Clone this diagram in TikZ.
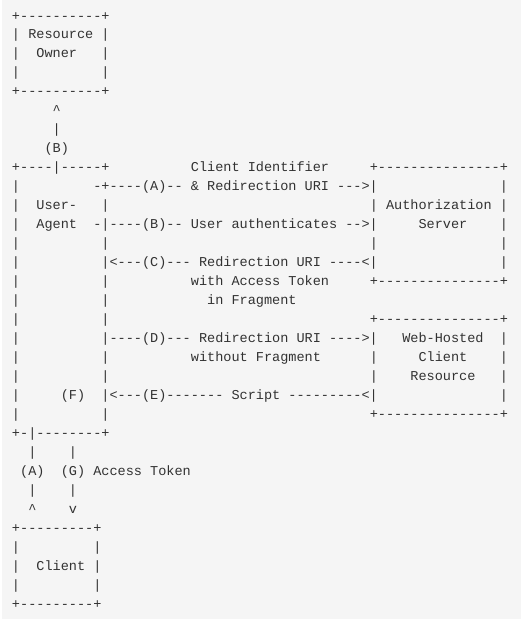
\documentclass[tikz,border=0pt]{standalone}
\usepackage{fontspec}
\setmonofont{Liberation Mono}
\definecolor{bgcol}{RGB}{245,245,245}
\definecolor{txtcol}{RGB}{50,50,50}
\tikzset{
  asc/.style={anchor=base west, inner sep=0pt, outer sep=0pt, text=txtcol,
    font=\ttfamily\fontsize{13.55pt}{19pt}\selectfont}
}
\newcommand{\ca}{\textasciicircum}
\begin{document}
\begin{tikzpicture}[x=1pt,y=-1pt]
\useasboundingbox (0,0) rectangle (523,621);
\fill[bgcol] (2,0) rectangle (521,619);
\def\lx{12}
\def\ly#1{20+(#1-1)*18.97}
\node[asc] (l1) at (\lx,{\ly{1}}) {+----------+};
\node[asc] (l2) at (\lx,{\ly{2}}) {|~Resource~|};
\node[asc] (l3) at (\lx,{\ly{3}}) {|~~Owner~~~|};
\node[asc] (l4) at (\lx,{\ly{4}}) {|~~~~~~~~~~|};
\node[asc] (l5) at (\lx,{\ly{5}}) {+----------+};
\node[asc] (l6) at (\lx,{\ly{6}}) {~~~~~\ca};
\node[asc] (l7) at (\lx,{\ly{7}}) {~~~~~|};
\node[asc] (l8) at (\lx,{\ly{8}}) {~~~~(B)};
\node[asc] (l9) at (\lx,{\ly{9}}) {+----|-----+~~~~~~~~~~Client~Identifier~~~~~+---------------+};
\node[asc] (l10) at (\lx,{\ly{10}}) {|~~~~~~~~~-+----(A)--~\&~Redirection~URI~--->|~~~~~~~~~~~~~~~|};
\node[asc] (l11) at (\lx,{\ly{11}}) {|~~User-~~~|~~~~~~~~~~~~~~~~~~~~~~~~~~~~~~~~|~Authorization~|};
\node[asc] (l12) at (\lx,{\ly{12}}) {|~~Agent~~-|----(B)--~User~authenticates~-->|~~~~~Server~~~~|};
\node[asc] (l13) at (\lx,{\ly{13}}) {|~~~~~~~~~~|~~~~~~~~~~~~~~~~~~~~~~~~~~~~~~~~|~~~~~~~~~~~~~~~|};
\node[asc] (l14) at (\lx,{\ly{14}}) {|~~~~~~~~~~|<---(C)---~Redirection~URI~----<|~~~~~~~~~~~~~~~|};
\node[asc] (l15) at (\lx,{\ly{15}}) {|~~~~~~~~~~|~~~~~~~~~~with~Access~Token~~~~~+---------------+};
\node[asc] (l16) at (\lx,{\ly{16}}) {|~~~~~~~~~~|~~~~~~~~~~~~in~Fragment};
\node[asc] (l17) at (\lx,{\ly{17}}) {|~~~~~~~~~~|~~~~~~~~~~~~~~~~~~~~~~~~~~~~~~~~+---------------+};
\node[asc] (l18) at (\lx,{\ly{18}}) {|~~~~~~~~~~|----(D)---~Redirection~URI~---->|~~~Web-Hosted~~|};
\node[asc] (l19) at (\lx,{\ly{19}}) {|~~~~~~~~~~|~~~~~~~~~~without~Fragment~~~~~~|~~~~~Client~~~~|};
\node[asc] (l20) at (\lx,{\ly{20}}) {|~~~~~~~~~~|~~~~~~~~~~~~~~~~~~~~~~~~~~~~~~~~|~~~~Resource~~~|};
\node[asc] (l21) at (\lx,{\ly{21}}) {|~~~~~(F)~~|<---(E)-------~Script~---------<|~~~~~~~~~~~~~~~|};
\node[asc] (l22) at (\lx,{\ly{22}}) {|~~~~~~~~~~|~~~~~~~~~~~~~~~~~~~~~~~~~~~~~~~~+---------------+};
\node[asc] (l23) at (\lx,{\ly{23}}) {+-|--------+};
\node[asc] (l24) at (\lx,{\ly{24}}) {~~|~~~~|};
\node[asc] (l25) at (\lx,{\ly{25}}) {~(A)~~(G)~Access~Token};
\node[asc] (l26) at (\lx,{\ly{26}}) {~~|~~~~|};
\node[asc] (l27) at (\lx,{\ly{27}}) {~~\ca~~~~v};
\node[asc] (l28) at (\lx,{\ly{28}}) {+---------+};
\node[asc] (l29) at (\lx,{\ly{29}}) {|~~~~~~~~~|};
\node[asc] (l30) at (\lx,{\ly{30}}) {|~~Client~|};
\node[asc] (l31) at (\lx,{\ly{31}}) {|~~~~~~~~~|};
\node[asc] (l32) at (\lx,{\ly{32}}) {+---------+};
\end{tikzpicture}
\end{document}
